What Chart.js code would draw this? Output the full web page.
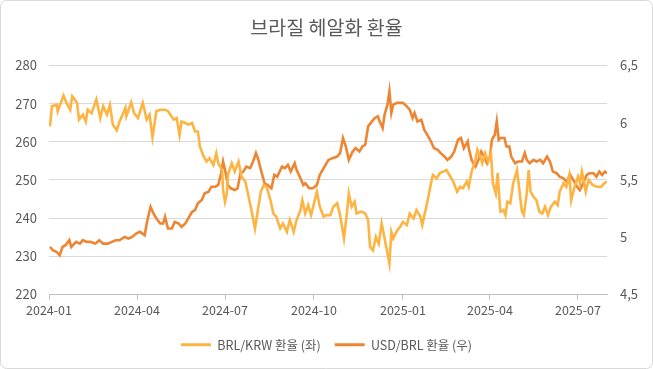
<!DOCTYPE html>
<html>
<head>
<meta charset="utf-8">
<script src="https://cdn.jsdelivr.net/npm/chart.js@4/dist/chart.umd.min.js"></script>
<style>
  html, body { margin: 0; padding: 0; background: #fff; }
  #wrap { width: 653px; height: 369px; }
</style>
</head>
<body>
<div id="wrap"><canvas id="fx" width="653" height="369"></canvas></div>
<script>
// BRL/KRW (left axis)
var brlKrwDates = [
  "2024-01-02","2024-01-04","2024-01-09","2024-01-10","2024-01-16","2024-01-19","2024-01-23","2024-01-25","2024-01-30","2024-02-01",
  "2024-02-05","2024-02-08","2024-02-10","2024-02-14","2024-02-19","2024-02-23","2024-02-26","2024-03-01","2024-03-04","2024-03-07",
  "2024-03-11","2024-03-14","2024-03-20","2024-03-21","2024-03-26","2024-03-29","2024-04-02","2024-04-07","2024-04-11","2024-04-14",
  "2024-04-17","2024-04-21","2024-04-25","2024-04-30","2024-05-03","2024-05-09","2024-05-12","2024-05-15","2024-05-17","2024-05-21",
  "2024-05-24","2024-05-28","2024-05-31","2024-06-03","2024-06-05","2024-06-09","2024-06-12","2024-06-15","2024-06-19","2024-06-22",
  "2024-06-24","2024-06-28","2024-06-29","2024-07-01","2024-07-03","2024-07-04","2024-07-08","2024-07-11","2024-07-15","2024-07-18",
  "2024-07-22","2024-07-25","2024-07-29","2024-08-01","2024-08-04","2024-08-07","2024-08-10","2024-08-13","2024-08-17","2024-08-20",
  "2024-08-23","2024-08-27","2024-08-30","2024-09-03","2024-09-06","2024-09-10","2024-09-13","2024-09-17","2024-09-19","2024-09-22",
  "2024-09-25","2024-09-28","2024-10-01","2024-10-04","2024-10-07","2024-10-11","2024-10-14","2024-10-18","2024-10-21","2024-10-25",
  "2024-10-28","2024-11-01","2024-11-04","2024-11-06","2024-11-09","2024-11-12","2024-11-14","2024-11-19","2024-11-23","2024-11-26",
  "2024-11-28","2024-12-01","2024-12-04","2024-12-07","2024-12-10","2024-12-13","2024-12-18","2024-12-20","2024-12-22","2024-12-26",
  "2024-12-29","2025-01-01","2025-01-05","2025-01-08","2025-01-12","2025-01-15","2025-01-19","2025-01-21","2025-01-24","2025-01-27",
  "2025-01-30","2025-02-01","2025-02-05","2025-02-08","2025-02-12","2025-02-15","2025-02-19","2025-02-22","2025-02-26","2025-03-01",
  "2025-03-04","2025-03-08","2025-03-10","2025-03-13","2025-03-17","2025-03-19","2025-03-22","2025-03-24","2025-03-27","2025-03-30",
  "2025-04-02","2025-04-04","2025-04-07","2025-04-09","2025-04-11","2025-04-12","2025-04-15","2025-04-17","2025-04-19","2025-04-22",
  "2025-04-25","2025-04-29","2025-05-01","2025-05-04","2025-05-06","2025-05-09","2025-05-11","2025-05-13","2025-05-16","2025-05-19",
  "2025-05-22","2025-05-25","2025-05-28","2025-05-31","2025-06-03","2025-06-07","2025-06-10","2025-06-12","2025-06-16","2025-06-19",
  "2025-06-22","2025-06-24","2025-06-27","2025-07-01","2025-07-03","2025-07-05","2025-07-09","2025-07-12","2025-07-16","2025-07-20",
  "2025-07-25","2025-07-28","2025-07-31"
];
var brlKrwValues = [
  264.0,269.3,269.7,268.0,272.1,270.2,268.4,271.9,270.2,265.8,
  267.1,265.3,268.4,267.5,271.1,266.2,269.3,267.1,269.7,264.5,
  263.0,265.3,268.9,266.7,270.3,267.5,266.2,270.2,265.8,267.1,
  261.2,268.0,268.4,268.4,268.0,265.8,266.2,261.8,265.3,264.9,
  264.5,264.9,262.7,262.7,258.8,256.1,254.8,255.7,253.9,257.0,
  254.4,252.6,247.4,244.3,246.5,251.3,254.4,252.2,254.8,250.9,
  249.6,246.1,241.2,237.3,242.1,246.9,248.7,248.2,244.7,241.2,
  240.4,237.3,238.6,236.4,239.5,236.4,239.5,242.1,244.7,241.2,
  243.4,240.8,243.9,246.9,243.0,240.4,240.8,240.8,243.0,243.9,
  240.8,234.7,241.2,246.5,243.0,244.3,241.2,241.7,241.2,239.5,
  232.4,231.6,235.1,233.3,238.6,234.7,228.1,236.4,234.7,236.8,
  237.7,239.0,238.2,241.2,239.9,242.1,240.4,238.2,241.7,245.2,
  249.1,251.3,250.4,251.8,252.2,252.6,250.9,249.6,246.9,248.2,
  247.8,249.6,248.2,252.2,255.3,257.9,256.1,254.4,257.0,254.8,
  257.0,249.1,246.5,251.8,243.9,241.7,242.1,240.8,244.3,243.9,
  249.1,252.6,248.2,241.7,240.8,246.5,252.6,246.9,245.6,244.7,
  241.7,241.2,243.0,240.8,243.0,244.3,243.4,246.9,249.1,248.2,
  251.3,244.7,247.8,250.9,249.1,252.2,246.9,250.0,248.7,248.2,
  248.2,249.1,249.6
];

// USD/BRL (right axis)
var usdBrlDates = [
  "2024-01-02","2024-01-05","2024-01-09","2024-01-12","2024-01-15","2024-01-18","2024-01-22","2024-01-24","2024-01-29","2024-02-02",
  "2024-02-05","2024-02-09","2024-02-13","2024-02-18","2024-02-22","2024-02-26","2024-03-02","2024-03-06","2024-03-10","2024-03-14",
  "2024-03-19","2024-03-23","2024-03-27","2024-03-31","2024-04-04","2024-04-09","2024-04-11","2024-04-15","2024-04-18","2024-04-21",
  "2024-04-25","2024-04-28","2024-04-30","2024-05-03","2024-05-07","2024-05-10","2024-05-14","2024-05-17","2024-05-21","2024-05-24",
  "2024-05-28","2024-05-31","2024-06-03","2024-06-07","2024-06-10","2024-06-14","2024-06-17","2024-06-21","2024-06-24","2024-06-27",
  "2024-06-29","2024-07-01","2024-07-04","2024-07-07","2024-07-11","2024-07-14","2024-07-17","2024-07-20","2024-07-23","2024-07-27",
  "2024-07-30","2024-08-02","2024-08-04","2024-08-08","2024-08-11","2024-08-14","2024-08-18","2024-08-21","2024-08-24","2024-08-29",
  "2024-09-01","2024-09-04","2024-09-07","2024-09-11","2024-09-13","2024-09-17","2024-09-20","2024-09-22","2024-09-26","2024-09-30",
  "2024-10-04","2024-10-07","2024-10-11","2024-10-16","2024-10-20","2024-10-25","2024-10-28","2024-10-31","2024-11-03","2024-11-06",
  "2024-11-10","2024-11-13","2024-11-17","2024-11-20","2024-11-23","2024-11-26","2024-11-30","2024-12-03","2024-12-06","2024-12-08",
  "2024-12-11","2024-12-13","2024-12-16","2024-12-18","2024-12-20","2024-12-22","2024-12-26","2024-12-29","2025-01-01","2025-01-05",
  "2025-01-08","2025-01-11","2025-01-13","2025-01-16","2025-01-20","2025-01-23","2025-01-27","2025-01-30","2025-02-02","2025-02-06",
  "2025-02-09","2025-02-13","2025-02-16","2025-02-20","2025-02-23","2025-02-27","2025-03-02","2025-03-05","2025-03-09","2025-03-10",
  "2025-03-13","2025-03-17","2025-03-20","2025-03-23","2025-03-25","2025-03-29","2025-04-01","2025-04-03","2025-04-06","2025-04-08",
  "2025-04-10","2025-04-12","2025-04-16","2025-04-18","2025-04-21","2025-04-23","2025-04-27","2025-04-30","2025-05-04","2025-05-07",
  "2025-05-09","2025-05-12","2025-05-16","2025-05-19","2025-05-23","2025-05-26","2025-05-30","2025-06-02","2025-06-05","2025-06-09",
  "2025-06-12","2025-06-16","2025-06-19","2025-06-23","2025-06-26","2025-06-30","2025-07-03","2025-07-07","2025-07-10","2025-07-13",
  "2025-07-17","2025-07-20","2025-07-23","2025-07-26","2025-07-29","2025-07-31"
];
var usdBrlValues = [
  4.915,4.886,4.871,4.842,4.915,4.930,4.974,4.915,4.959,4.944,
  4.974,4.959,4.959,4.944,4.974,4.944,4.944,4.959,4.974,4.974,
  5.003,4.989,5.003,5.032,5.047,5.018,5.120,5.266,5.208,5.164,
  5.120,5.120,5.178,5.076,5.076,5.134,5.120,5.091,5.120,5.164,
  5.222,5.237,5.296,5.325,5.383,5.398,5.441,5.441,5.456,5.559,
  5.661,5.588,5.456,5.427,5.412,5.427,5.559,5.573,5.617,5.603,
  5.661,5.734,5.690,5.559,5.471,5.456,5.427,5.544,5.529,5.617,
  5.603,5.632,5.573,5.646,5.588,5.515,5.456,5.471,5.427,5.427,
  5.456,5.544,5.603,5.675,5.690,5.704,5.734,5.866,5.792,5.675,
  5.748,5.778,5.748,5.792,5.807,5.968,6.011,6.041,6.055,6.011,
  5.953,6.070,6.158,6.275,6.085,6.158,6.173,6.173,6.173,6.143,
  6.114,6.041,6.085,6.011,6.026,5.939,5.880,5.836,5.778,5.763,
  5.734,5.704,5.675,5.704,5.748,5.851,5.866,5.778,5.836,5.778,
  5.675,5.617,5.675,5.748,5.719,5.646,5.704,5.851,5.895,6.011,
  5.851,5.866,5.866,5.792,5.792,5.704,5.646,5.661,5.661,5.734,
  5.675,5.646,5.675,5.661,5.675,5.646,5.704,5.661,5.573,5.559,
  5.529,5.515,5.485,5.544,5.500,5.441,5.412,5.485,5.544,5.559,
  5.559,5.529,5.573,5.544,5.573,5.559
];

var seriesNames = ["BRL/KRW 환율 (좌)", "USD/BRL 환율 (우)"];
var xTickDates = ["2024-01-01","2024-04-01","2024-07-01","2024-10-01","2025-01-01","2025-04-01","2025-07-01"];
var leftTicks = [220, 230, 240, 250, 260, 270, 280];
var rightTicks = [4.5, 5, 5.5, 6, 6.5];

var DAY = 86400000;
var origin = Date.UTC(2024, 0, 1);
function dayNum(s) {
  var p = s.split("-");
  return Math.round((Date.UTC(+p[0], +p[1] - 1, +p[2]) - origin) / DAY);
}
function dayLabel(d) {
  var dt = new Date(origin + d * DAY);
  var m = dt.getUTCMonth() + 1;
  return dt.getUTCFullYear() + "-" + (m < 10 ? "0" + m : m);
}
function toPoints(dates, vals) {
  return dates.map(function (d, i) { return { x: dayNum(d), y: vals[i] }; });
}

var FONT = "'Noto Sans CJK KR', 'Noto Sans', sans-serif";
var TXT = "#595959";

var frame = {
  id: "frame",
  beforeDraw: function (chart) {
    var c = chart.ctx;
    c.save();
    c.fillStyle = "#fff";
    c.fillRect(0, 0, chart.width, chart.height);
    c.strokeStyle = "#d9d9d9";
    c.lineWidth = 1;
    c.beginPath();
    c.roundRect(0.5, 0.5, chart.width - 1, chart.height - 1, 6);
    c.stroke();
    c.restore();
  }
};

new Chart(document.getElementById("fx").getContext("2d"), {
  type: "line",
  data: {
    datasets: [
      {
        label: seriesNames[0],
        data: toPoints(brlKrwDates, brlKrwValues),
        yAxisID: "y",
        borderColor: "#FDB443",
        backgroundColor: "#FDB443",
        borderWidth: 2.6,
        pointRadius: 0,
        tension: 0
      },
      {
        label: seriesNames[1],
        data: toPoints(usdBrlDates, usdBrlValues),
        yAxisID: "y1",
        borderColor: "#EE8532",
        backgroundColor: "#EE8532",
        borderWidth: 2.6,
        pointRadius: 0,
        tension: 0
      }
    ]
  },
  options: {
    responsive: false,
    animation: false,
    layout: { padding: { top: 2, bottom: 8, left: 0, right: 0 } },
    plugins: {
      title: {
        display: true,
        text: "브라질 헤알화 환율",
        color: TXT,
        font: { family: FONT, size: 19.5, weight: "normal" },
        padding: { top: 14, bottom: 26 }
      },
      legend: {
        position: "bottom",
        labels: {
          color: TXT,
          font: { family: FONT, size: 12.5 },
          boxWidth: 30,
          boxHeight: 3,
          padding: 14,
          generateLabels: function (chart) {
            var items = Chart.defaults.plugins.legend.labels.generateLabels(chart);
            items.forEach(function (it) { it.lineWidth = 0; });
            return items;
          }
        }
      },
      tooltip: { enabled: false }
    },
    scales: {
      x: {
        type: "linear",
        min: 0,
        max: dayNum("2025-07-31"),
        afterBuildTicks: function (s) {
          s.ticks = xTickDates.map(function (d) { return { value: dayNum(d) }; });
        },
        afterFit: function (s) { s.height = 30; },
        ticks: {
          color: TXT,
          font: { family: FONT, size: 12.5 },
          padding: 3,
          maxRotation: 0,
          autoSkip: false,
          callback: function (v) { return dayLabel(v); }
        },
        grid: { drawOnChartArea: false, tickLength: 5, color: "#bfbfbf" },
        border: { display: true, color: "#bfbfbf" }
      },
      y: {
        position: "left",
        min: 220,
        max: 280,
        afterBuildTicks: function (s) {
          s.ticks = leftTicks.map(function (v) { return { value: v }; });
        },
        afterFit: function (s) { s.width = 49; },
        ticks: { color: TXT, font: { family: FONT, size: 13 }, padding: 12 },
        grid: { color: "#d9d9d9", drawTicks: false },
        border: { display: false }
      },
      y1: {
        position: "right",
        min: 4.5,
        max: 6.5,
        afterBuildTicks: function (s) {
          s.ticks = rightTicks.map(function (v) { return { value: v }; });
        },
        afterFit: function (s) { s.width = 46; },
        ticks: {
          color: TXT,
          font: { family: FONT, size: 13 },
          padding: 13,
          callback: function (v) { return String(v).replace(".", ","); }
        },
        grid: { display: false, drawTicks: false },
        border: { display: false }
      }
    }
  },
  plugins: [frame]
});
</script>
</body>
</html>
